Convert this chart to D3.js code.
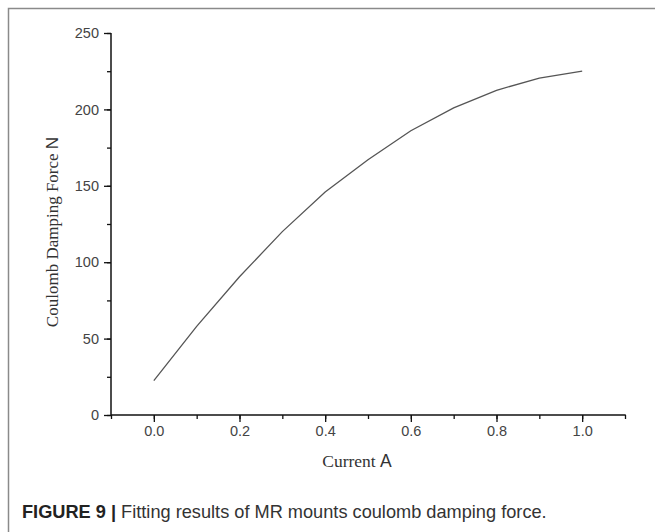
<!DOCTYPE html>
<html>
<head>
<meta charset="utf-8">
<script src="https://cdn.jsdelivr.net/npm/d3@7"></script>
<style>
  body { margin: 0; background: #fff; }
  svg { display: block; }
</style>
</head>
<body>
<div id="wrapper"></div>
<script>
// data
const currentValues = [0.0, 0.1, 0.2, 0.3, 0.4, 0.5, 0.6, 0.7, 0.8, 0.9, 1.0];
const forceValues = [22.5, 58, 90.5, 120, 146, 167, 186, 201, 212.5, 220.5, 225];
const xTickLabels = [0.0, 0.2, 0.4, 0.6, 0.8, 1.0];
const yTickLabels = [0, 50, 100, 150, 200, 250];

const width = 655;
const height = 532;
const plot = { left: 111, right: 625, top: 33, bottom: 415 };

const svg = d3.select("#wrapper")
  .append("svg")
  .attr("width", width)
  .attr("height", height);

// frame around the figure (top + left visible)
svg.append("rect")
  .attr("x", 8.5)
  .attr("y", 8.5)
  .attr("width", 700)
  .attr("height", 600)
  .attr("fill", "none")
  .attr("stroke", "#8a8a8a")
  .attr("stroke-width", 1.5);

const x = d3.scaleLinear().domain([-0.1, 1.1]).range([plot.left, plot.right]);
const y = d3.scaleLinear().domain([0, 250]).range([plot.bottom, plot.top]);

// minor ticks
const xMinor = d3.range(-0.1, 1.1001, 0.1);
const yMinor = d3.range(0, 250.01, 25);

const axisColor = "#111";

const xAxisG = svg.append("g")
  .attr("transform", `translate(0,${plot.bottom})`);
xAxisG.append("g")
  .call(d3.axisBottom(x).tickValues(xMinor).tickSize(4).tickFormat(""))
  .call(g => g.select(".domain").remove());
xAxisG.append("g")
  .call(d3.axisBottom(x).tickValues(xTickLabels).tickSize(7).tickPadding(4)
    .tickFormat(d3.format(".1f")))
  .call(g => g.select(".domain").remove());
xAxisG.append("line")
  .attr("x1", plot.left).attr("x2", plot.right + 0.75)
  .attr("stroke", axisColor).attr("stroke-width", 1.5);

const yAxisG = svg.append("g")
  .attr("transform", `translate(${plot.left},0)`);
yAxisG.append("g")
  .call(d3.axisLeft(y).tickValues(yMinor).tickSize(4).tickFormat(""))
  .call(g => g.select(".domain").remove());
yAxisG.append("g")
  .call(d3.axisLeft(y).tickValues(yTickLabels).tickSize(7).tickPadding(5))
  .call(g => g.select(".domain").remove());
yAxisG.append("line")
  .attr("y1", plot.top).attr("y2", plot.bottom + 0.75)
  .attr("stroke", axisColor).attr("stroke-width", 1.5);

svg.selectAll(".tick line")
  .attr("stroke", axisColor)
  .attr("stroke-width", 1.3);
svg.selectAll(".tick text")
  .attr("fill", "#444")
  .style("font-family", "'Liberation Sans', Arial, sans-serif")
  .style("font-size", "14.5px");

// curve
const line = d3.line()
  .x((d, i) => x(currentValues[i]))
  .y(d => y(d));

svg.append("path")
  .datum(forceValues)
  .attr("d", line)
  .attr("fill", "none")
  .attr("stroke", "#555")
  .attr("stroke-width", 1.3);

// axis titles
const xTitle = svg.append("text")
  .attr("x", 357)
  .attr("y", 467)
  .attr("text-anchor", "middle")
  .attr("fill", "#333")
  .style("font-family", "'Liberation Serif', 'Times New Roman', serif")
  .style("font-size", "17.5px");
xTitle.append("tspan").text("Current ");
xTitle.append("tspan")
  .style("font-family", "'Liberation Sans', Arial, sans-serif")
  .text("A");

const yTitle = svg.append("text")
  .attr("transform", "translate(58,232) rotate(-90)")
  .attr("text-anchor", "middle")
  .attr("fill", "#333")
  .style("font-family", "'Liberation Serif', 'Times New Roman', serif")
  .style("font-size", "17px");
yTitle.append("tspan").text("Coulomb Damping Force ");
yTitle.append("tspan")
  .style("font-family", "'Liberation Sans', Arial, sans-serif")
  .text("N");

// caption
const caption = svg.append("text")
  .attr("x", 22)
  .attr("y", 518)
  .attr("fill", "#222")
  .style("font-family", "'Liberation Sans', Arial, sans-serif")
  .style("font-size", "18.2px");
caption.append("tspan")
  .style("font-weight", "bold")
  .text("FIGURE 9 | ");
caption.append("tspan")
  .attr("fill", "#333")
  .text("Fitting results of MR mounts coulomb damping force.");
</script>
</body>
</html>
